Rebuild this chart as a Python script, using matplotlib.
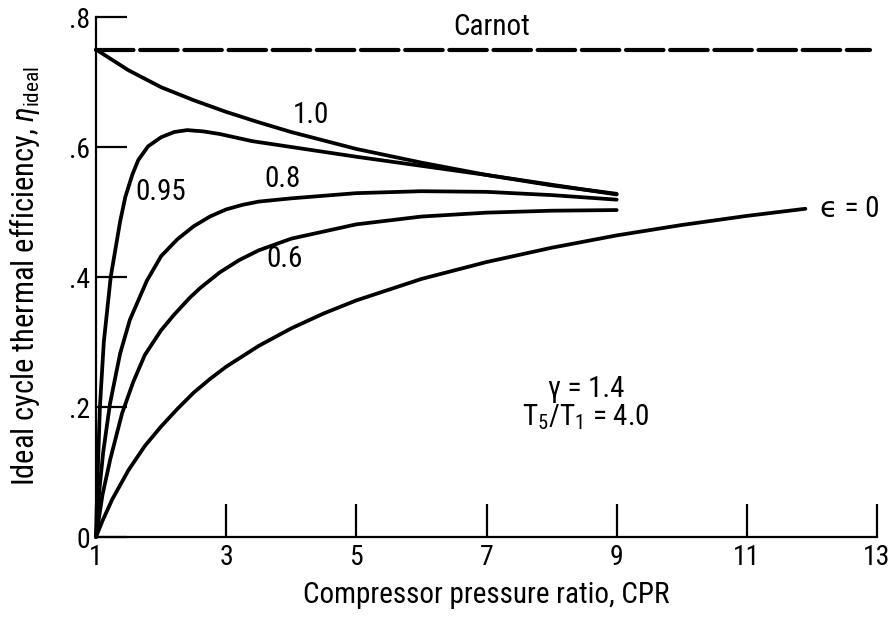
import matplotlib
matplotlib.use('Agg')
import matplotlib.pyplot as plt
from matplotlib import font_manager

# values
cpr_e0 = [1, 1.1, 1.25, 1.5, 1.75, 2, 2.25, 2.5, 2.75, 3, 3.5, 4, 4.5, 5, 6, 7,
          8, 9, 10, 11, 11.9]
eta_e0 = [0, 0.025, 0.058, 0.103, 0.140, 0.170, 0.197, 0.222, 0.243, 0.262,
          0.294, 0.321, 0.344, 0.364, 0.397, 0.423, 0.445, 0.464, 0.480,
          0.494, 0.505]

cpr_e06 = [1, 1.1, 1.22, 1.4, 1.57, 1.75, 2, 2.2, 2.44, 2.6, 2.9, 3.2, 3.5,
           4, 5, 6, 7, 8, 9]
eta_e06 = [0, 0.065, 0.12, 0.19, 0.238, 0.28, 0.318, 0.342, 0.368, 0.383,
           0.407, 0.426, 0.441, 0.459, 0.481, 0.493, 0.499, 0.502, 0.503]

cpr_e08 = [1, 1.05, 1.11, 1.215, 1.37, 1.52, 1.78, 2, 2.25, 2.5, 2.75, 3,
           3.25, 3.5, 4, 5, 6, 7, 8, 9]
eta_e08 = [0, 0.07, 0.13, 0.205, 0.282, 0.334, 0.394, 0.432, 0.458, 0.478,
           0.493, 0.504, 0.511, 0.516, 0.521, 0.529, 0.532, 0.531, 0.526,
           0.519]

cpr_e095 = [1, 1.03, 1.06, 1.12, 1.226, 1.37, 1.45, 1.56, 1.65, 1.8, 2.0,
            2.2, 2.4, 2.65, 2.9, 3.4, 4, 5, 6, 7, 8, 9]
eta_e095 = [0, 0.11, 0.2, 0.3, 0.4, 0.485, 0.523, 0.558, 0.58, 0.601, 0.615,
            0.623, 0.626, 0.624, 0.62, 0.609, 0.6, 0.585, 0.571, 0.557,
            0.542, 0.527]

cpr_e1 = [1, 1.5, 2, 2.5, 3, 3.5, 4, 5, 6, 7, 8, 9]
eta_e1 = [0.75, 0.718, 0.692, 0.672, 0.654, 0.638, 0.623, 0.597, 0.576,
          0.557, 0.541, 0.528]

carnot_cpr = [1, 12.9]
carnot_eta = 0.75

x_ticks = [1, 3, 5, 7, 9, 11, 13]
y_ticks = [0, 0.2, 0.4, 0.6, 0.8]
y_ticklabels = ['0', '.2', '.4', '.6', '.8']

# narrow lettering like the original, if there is one
names = {f.name for f in font_manager.fontManager.ttflist}
FONT = 'DejaVu Sans'
for cand in ['Liberation Sans Narrow', 'Roboto Condensed', 'Open Sans Condensed']:
    if cand in names:
        FONT = cand
        break
plt.rcParams['font.family'] = [FONT, 'DejaVu Sans']
plt.rcParams['mathtext.fontset'] = 'custom'
plt.rcParams['mathtext.rm'] = FONT
plt.rcParams['mathtext.it'] = FONT + ':italic'
plt.rcParams['mathtext.bf'] = FONT + ':bold'

FS = 21

fig = plt.figure(figsize=(8.89, 6.17), dpi=100)
ax = fig.add_axes([96 / 889, 80 / 617, 781 / 889, 520 / 617])

lw = 2.7
for c, e in [(cpr_e0, eta_e0), (cpr_e06, eta_e06), (cpr_e08, eta_e08),
             (cpr_e095, eta_e095), (cpr_e1, eta_e1)]:
    ax.plot(c, e, color='black', lw=lw, solid_capstyle='round',
            solid_joinstyle='round', clip_on=False)

ax.plot(carnot_cpr, [carnot_eta] * len(carnot_cpr), color='black', lw=3,
        dashes=(9, 1.6), dash_capstyle='round', clip_on=False)

ax.set_xlim(1, 13)
ax.set_ylim(0, 0.8)
ax.set_xticks(x_ticks)
ax.set_yticks(y_ticks)
ax.set_yticklabels(y_ticklabels)
ax.tick_params(axis='x', direction='in', length=24, width=1.6, labelsize=20, pad=5)
ax.tick_params(axis='y', direction='in', length=22, width=1.6, labelsize=20, pad=4)
for s in ['top', 'right']:
    ax.spines[s].set_visible(False)
for s in ['left', 'bottom']:
    ax.spines[s].set_linewidth(1.6)

# curve labels
ax.text(4.30, 0.649, '1.0', fontsize=FS, ha='center', va='center')
ax.text(2.0, 0.531, '0.95', fontsize=FS, ha='center', va='center')
ax.text(3.87, 0.551, '0.8', fontsize=FS, ha='center', va='center')
ax.text(3.90, 0.427, '0.6', fontsize=FS, ha='center', va='center')
ax.text(7.08, 0.784, 'Carnot', fontsize=FS, ha='center', va='center')
ax.text(12.12, 0.505, '\u03f5 = 0', fontsize=FS, ha='left', va='center')
ax.text(8.53, 0.228, '\u03b3 = 1.4', fontsize=FS, ha='center', va='center')
ax.text(8.53, 0.185, r'T$_5$/T$_1$ = 4.0', fontsize=FS, ha='center', va='center')

fig.text(486 / 889, (617 - 603) / 617, 'Compressor pressure ratio, CPR',
         fontsize=FS, ha='center', va='baseline')
fig.text(25 / 889, (617 - 276) / 617,
         r'Ideal cycle thermal efficiency, $\eta_{\mathrm{ideal}}$',
         fontsize=22, rotation=90, ha='center', va='center')

fig.savefig('out.png', dpi=100)
